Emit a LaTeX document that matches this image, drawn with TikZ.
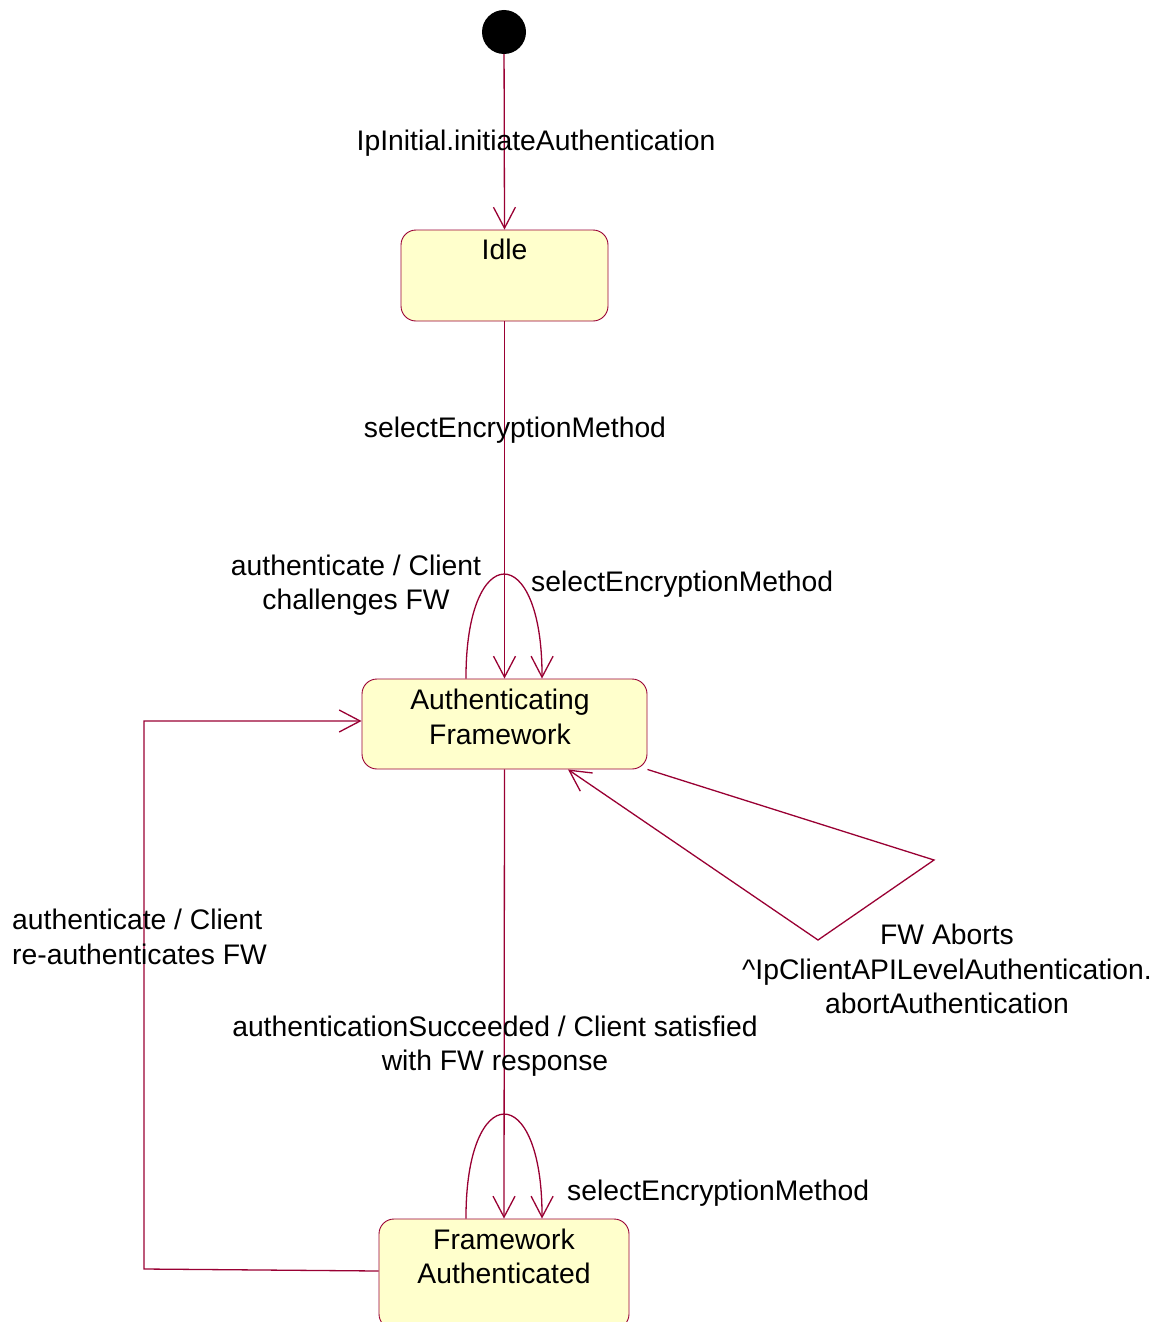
\documentclass[tikz,border=0pt]{standalone}
\usepackage{fontspec}
\setmainfont{Liberation Sans}
\usetikzlibrary{arrows.meta,calc}
\definecolor{edge}{RGB}{153,0,51}
\definecolor{boxfill}{RGB}{255,255,204}
\tikzset{
  statebox/.style={draw=edge, fill=boxfill, rounded corners=15pt, line width=0.9pt, inner sep=0pt},
  txt/.style={font=\fontsize{28.3}{34.5}\selectfont, inner sep=0pt, align=center, text=black},
  trans/.style={draw=edge, line width=1.3pt, -{Straight Barb[length=21pt,width=22pt,line width=1.3pt]}},
  plain/.style={draw=edge, line width=1.3pt}
}
\begin{document}
\begin{tikzpicture}[x=1pt,y=-1pt]
\useasboundingbox (0,0) rectangle (1150,1322);
\clip (0,0) rectangle (1150,1322);
% initial state
\node[circle, fill=black, minimum size=44pt, inner sep=0pt] (init) at (504,32) {};
% states
\node[statebox, minimum width=207pt, minimum height=91pt] (idle) at (504.5,275.5) {};
\node[txt, anchor=base] (idlet) at (504.5,259) {Idle};
\node[statebox, minimum width=285pt, minimum height=90pt] (auth) at (504.5,724) {};
\node[txt] (autht) at (500,717) {Authenticating\\Framework};
\node[statebox, minimum width=250pt, minimum height=110pt] (fwa) at (504,1274) {};
\node[txt] (fwat) at (504,1256.5) {Framework\\Authenticated};
% transitions
\draw[trans] (init) -- (idle.north);
\draw[trans] (idle.south) -- (auth.north);
\draw[trans] ($(auth.north)+(-38.5,0)$) .. controls ($(auth.north)+(-39,-139)$) and ($(auth.north)+(38,-139)$) .. ($(auth.north)+(37.5,0)$);
\coordinate (ab1) at (934,860);
\coordinate (ab2) at (818,940);
\draw[trans] (auth.south east) -- (ab1) -- (ab2) -- ($(auth.south)+(63.5,0)$);
\draw[trans] (auth.south) -- (fwa.north);
\draw[trans] ($(fwa.north)+(-38,0)$) .. controls ($(fwa.north)+(-38.5,-139)$) and ($(fwa.north)+(38.5,-139)$) .. ($(fwa.north)+(38,0)$);
\coordinate (r1) at (144,1269);
\coordinate (r2) at (144,721);
\draw[trans] ($(fwa.west)+(0,-3)$) -- (r1) -- (r2) -- (auth.west |- r2);
% labels
\node[txt, anchor=base] (l1) at (536,150) {IpInitial.initiateAuthentication};
\node[txt, anchor=base] (l2) at (515,437) {selectEncryptionMethod};
\node[txt] (l3) at (356,585) {authenticate / Client\\challenges FW};
\node[txt, anchor=base west] (l4) at (531,591) {selectEncryptionMethod};
\node[txt] (l5) at (947,969) {FW Aborts\\\textasciicircum IpClientAPILevelAuthentication.\\abortAuthentication};
\node[txt, align=left, anchor=west] (l6) at (12,937) {authenticate / Client\\re-authenticates FW};
\node[txt] (l7) at (495,1046) {authenticationSucceeded / Client satisfied\\with FW response};
\node[txt, anchor=base west] (l8) at (567,1200) {selectEncryptionMethod};
\end{tikzpicture}
\end{document}
